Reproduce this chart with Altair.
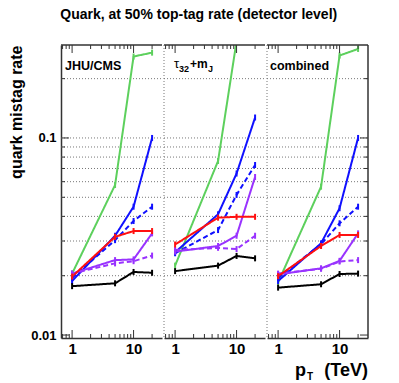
import altair as alt
import pandas as pd

# ---------------- data ----------------
pt = [1, 5, 10, 20]
series = ["green", "blue_dashed", "blue", "purple_dashed", "purple", "red", "black"]
colors = ["#5dd05d", "#1010ff", "#1010ff", "#9933ff", "#9933ff", "#ff1010", "#000000"]
dashes = [[1, 0], [5, 3], [1, 0], [5, 3], [1, 0], [1, 0], [1, 0]]

jhu_green = [0.0205, 0.0577, 0.259, 0.271]
jhu_blue = [0.0188, 0.0319, 0.0448, 0.100]
jhu_blue_dashed = [0.0195, 0.0303, 0.0379, 0.0448]
jhu_red = [0.0198, 0.0315, 0.0337, 0.0337]
jhu_purple = [0.0205, 0.0240, 0.0242, 0.0328]
jhu_purple_dashed = [0.0205, 0.0231, 0.0237, 0.0253]
jhu_black = [0.0177, 0.0183, 0.0209, 0.0207]

tau_green = [0.0225, 0.0764, 0.31, 0.34]
tau_blue = [0.0263, 0.0410, 0.066, 0.127]
tau_blue_dashed = [0.0260, 0.0341, 0.0514, 0.0729]
tau_red = [0.0288, 0.0394, 0.0398, 0.0398]
tau_purple = [0.0265, 0.0283, 0.0319, 0.0634]
tau_purple_dashed = [0.0270, 0.0277, 0.0273, 0.0319]
tau_black = [0.0211, 0.0225, 0.0252, 0.0245]

comb_green = [0.0185, 0.0566, 0.262, 0.283]
comb_blue = [0.0188, 0.0292, 0.0440, 0.100]
comb_blue_dashed = [0.0195, 0.0289, 0.0369, 0.0448]
comb_red = [0.0199, 0.0283, 0.0322, 0.0322]
comb_purple = [0.0203, 0.0218, 0.0238, 0.0328]
comb_purple_dashed = [0.0205, 0.0217, 0.0236, 0.0240]
comb_black = [0.0174, 0.0181, 0.0204, 0.0205]

panel_data = [
    {"green": jhu_green, "blue": jhu_blue, "blue_dashed": jhu_blue_dashed, "red": jhu_red,
     "purple": jhu_purple, "purple_dashed": jhu_purple_dashed, "black": jhu_black},
    {"green": tau_green, "blue": tau_blue, "blue_dashed": tau_blue_dashed, "red": tau_red,
     "purple": tau_purple, "purple_dashed": tau_purple_dashed, "black": tau_black},
    {"green": comb_green, "blue": comb_blue, "blue_dashed": comb_blue_dashed, "red": comb_red,
     "purple": comb_purple, "purple_dashed": comb_purple_dashed, "black": comb_black},
]

x_major = [1, 10]
x_minor = [0.7, 0.8, 0.9, 2, 3, 4, 5, 6, 7, 8, 9, 20]
y_major = [0.01, 0.1]
y_minor = [0.02, 0.03, 0.04, 0.05, 0.06, 0.07, 0.08, 0.09, 0.2]
y_grid = [0.02, 0.03, 0.04, 0.05, 0.06, 0.07, 0.08, 0.09, 0.1, 0.2]

# ---------------- style ----------------
W, H = 101, 293
FONT = "Liberation Sans"
FRAME = "#333333"
xscale = alt.Scale(type="log", domain=[0.66, 29], nice=False)
yscale = alt.Scale(type="log", domain=[0.00966, 0.2963], nice=False)
cscale = alt.Scale(domain=series, range=colors)
dscale = alt.Scale(domain=series, range=dashes)


def build_panel(i):
    d = panel_data[i]
    first, last = i == 0, i == 2
    rows = []
    for k, s in enumerate(series):
        for p, r in zip(pt, d[s]):
            rows.append({"series": s, "k": k, "pt": p, "rate": r})
    df = pd.DataFrame(rows)

    if first:
        yax = alt.Axis(values=y_major, format="~g", ticks=False, grid=False, domainColor=FRAME,
                       domainWidth=1.5, labelFont=FONT, labelFontWeight="bold",
                       labelFontSize=13, labelColor="black", labelPadding=5,
                       title="quark mistag rate", titleFont=FONT, titleFontSize=16,
                       titleFontWeight="bold", titleColor="black", titleAnchor="end",
                       titlePadding=6)
    else:
        yax = None
    xax = alt.Axis(values=x_major, format="~g", ticks=False, grid=False, domainColor=FRAME,
                   domainWidth=1.5, labelFont=FONT, labelFontWeight="bold", labelFontSize=15,
                   labelColor="black", labelPadding=3, labelFlush=False, title=None)

    def X(f):
        return alt.X(f, scale=xscale, axis=xax)

    def Y(f):
        return alt.Y(f, scale=yscale, axis=yax)

    grid = alt.Chart(pd.DataFrame({"v": y_grid})).mark_rule(
        color="#777777", strokeDash=[1, 2], strokeWidth=1
    ).encode(y=Y("v:Q"), x=alt.value(0), x2=alt.value(W))

    lines = alt.Chart(df).mark_line(strokeWidth=2, clip=True).encode(
        x=X("pt:Q"), y=Y("rate:Q"),
        color=alt.Color("series:N", scale=cscale, legend=None),
        strokeDash=alt.StrokeDash("series:N", scale=dscale, legend=None),
        order=alt.Order("pt:Q"),
    )
    bars = alt.Chart(df).mark_point(shape="stroke", angle=90, size=36, strokeWidth=2,
                                    filled=False, opacity=1, clip=True).encode(
        x=X("pt:Q"), y=Y("rate:Q"),
        color=alt.Color("series:N", scale=cscale, legend=None),
    )

    layers = [grid, lines, bars]

    # inward x ticks (bottom and top)
    for vals, ln in ((x_major, 8), (x_minor, 4)):
        src = pd.DataFrame({"v": vals})
        layers.append(alt.Chart(src).mark_rule(color=FRAME, strokeWidth=1).encode(
            x=X("v:Q"), y=alt.value(H), y2=alt.value(H - ln)))
        layers.append(alt.Chart(src).mark_rule(color=FRAME, strokeWidth=1).encode(
            x=X("v:Q"), y=alt.value(0), y2=alt.value(ln)))

    # inward y ticks
    if first or last:
        for vals, ln in ((y_major, 8), (y_minor, 4)):
            src = pd.DataFrame({"v": vals})
            x0, x1 = (0, ln) if first else (W - ln, W)
            layers.append(alt.Chart(src).mark_rule(color=FRAME, strokeWidth=1).encode(
                y=Y("v:Q"), x=alt.value(x0), x2=alt.value(x1)))

    one = pd.DataFrame({"a": [0]})
    layers.append(alt.Chart(one).mark_rule(color=FRAME, strokeWidth=1.5).encode(
        x=alt.value(0), x2=alt.value(W), y=alt.value(0)))
    if not first:
        layers.append(alt.Chart(one).mark_rule(color="#777777", strokeDash=[1, 2]).encode(
            x=alt.value(0), y=alt.value(0), y2=alt.value(H)))
    if last:
        layers.append(alt.Chart(one).mark_rule(color=FRAME, strokeWidth=1.5).encode(
            x=alt.value(W), y=alt.value(0), y2=alt.value(H)))

    def txt(t, x, y, size=12.5, weight="bold", align="left"):
        return alt.Chart(pd.DataFrame({"t": [t]})).mark_text(
            font=FONT, fontSize=size, fontWeight=weight, align=align, baseline="alphabetic",
            color="black").encode(text="t:N", x=alt.value(x), y=alt.value(y))

    if i == 0:
        layers.append(txt("JHU/CMS", 4, 25))
    elif i == 1:
        layers += [txt("τ", 10, 23, size=13, weight="normal"),
                   txt("32", 15, 27, size=9),
                   txt("+m", 26, 23, size=12),
                   txt("J", 44, 27, size=9)]
    else:
        layers.append(txt("combined", 3, 25))
        layers += [txt("p", 39, H + 38, size=18, align="right"),
                   txt("T", 40, H + 42, size=10),
                   txt("(TeV)", W, H + 38, size=18, align="right")]

    return alt.layer(*layers).properties(width=W, height=H)


chart = alt.hconcat(*[build_panel(i) for i in range(3)], spacing=0).properties(
    title=alt.TitleParams("Quark, at 50% top-tag rate (detector level)", font=FONT,
                          fontSize=14, fontWeight="bold", color="black", anchor="middle",
                          offset=22, dx=10),
    padding={"left": 0, "top": 0, "right": 0, "bottom": 0},
).configure_view(stroke=None)

chart.save("out.html", embed_options={"renderer": "svg", "actions": False})
